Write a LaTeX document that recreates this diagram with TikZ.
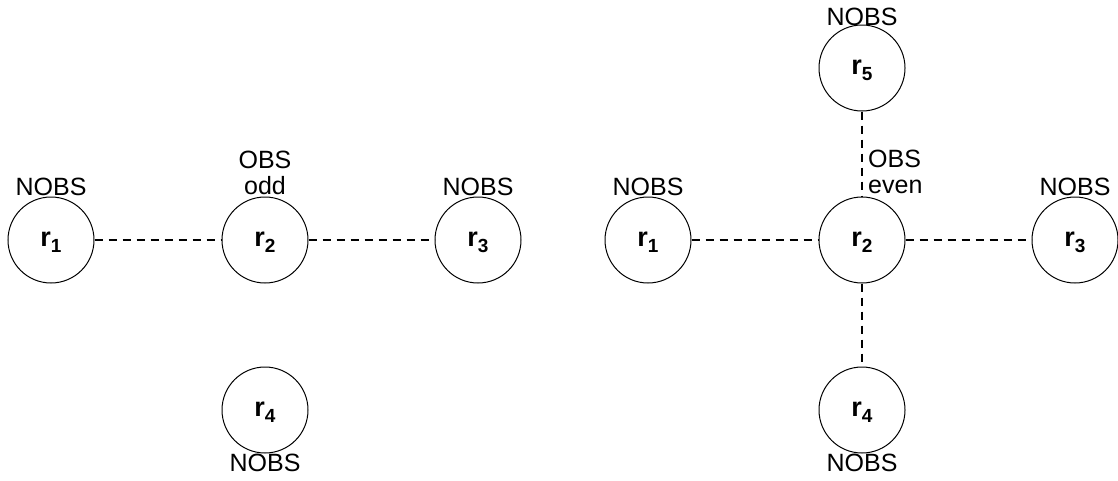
\documentclass[tikz,border=0pt]{standalone}
\usepackage{fontspec}
\setmainfont{Liberation Sans}
\begin{document}
\begin{tikzpicture}[x=1pt,y=-1pt,
  robot/.style={draw, circle, line width=1pt, minimum size=86pt, inner sep=0pt},
  link/.style={line width=1.6pt, dash pattern=on 8pt off 6pt},
  txt/.style={font=\fontsize{25}{26}\selectfont, inner sep=0pt, anchor=base}]
\newcommand{\rlab}[1]{\raisebox{-6pt}[0pt][0pt]{\fontsize{27}{29}\selectfont\textbf{r}\raisebox{-6pt}{\fontsize{19}{19}\selectfont\textbf{#1}}}}
\useasboundingbox (0,0) rectangle (1118,480);
% left diagram
\node[robot] (a1) at (51,240) {\rlab{1}};
\node[robot] (a2) at (265,240) {\rlab{2}};
\node[robot] (a3) at (478,240) {\rlab{3}};
\node[robot] (a4) at (265,410) {\rlab{4}};
\draw[link] (a1) -- (a2);
\draw[link] (a2) -- (a3);
\node[txt] (ta1) at (51,195) {NOBS};
\node[txt, align=center] (ta2) at (265,194) {OBS\\odd};
\node[txt] (ta3) at (478,195) {NOBS};
\node[txt] (ta4) at (265,471) {NOBS};
% right diagram
\node[robot] (b1) at (648,240) {\rlab{1}};
\node[robot] (b2) at (862,240) {\rlab{2}};
\node[robot] (b3) at (1075,240) {\rlab{3}};
\node[robot] (b4) at (862,410) {\rlab{4}};
\node[robot] (b5) at (862,68) {\rlab{5}};
\draw[link] (b1) -- (b2);
\draw[link] (b2) -- (b3);
\draw[link] (b2) -- (b4);
\draw[link] (b5) -- (b2);
\node[txt] (tb1) at (648,195) {NOBS};
\node[txt, anchor=base west, align=left] (tb2) at (868,193) {OBS\\even};
\node[txt] (tb3) at (1075,195) {NOBS};
\node[txt] (tb4) at (862,471) {NOBS};
\node[txt] (tb5) at (862,25) {NOBS};
\end{tikzpicture}
\end{document}
